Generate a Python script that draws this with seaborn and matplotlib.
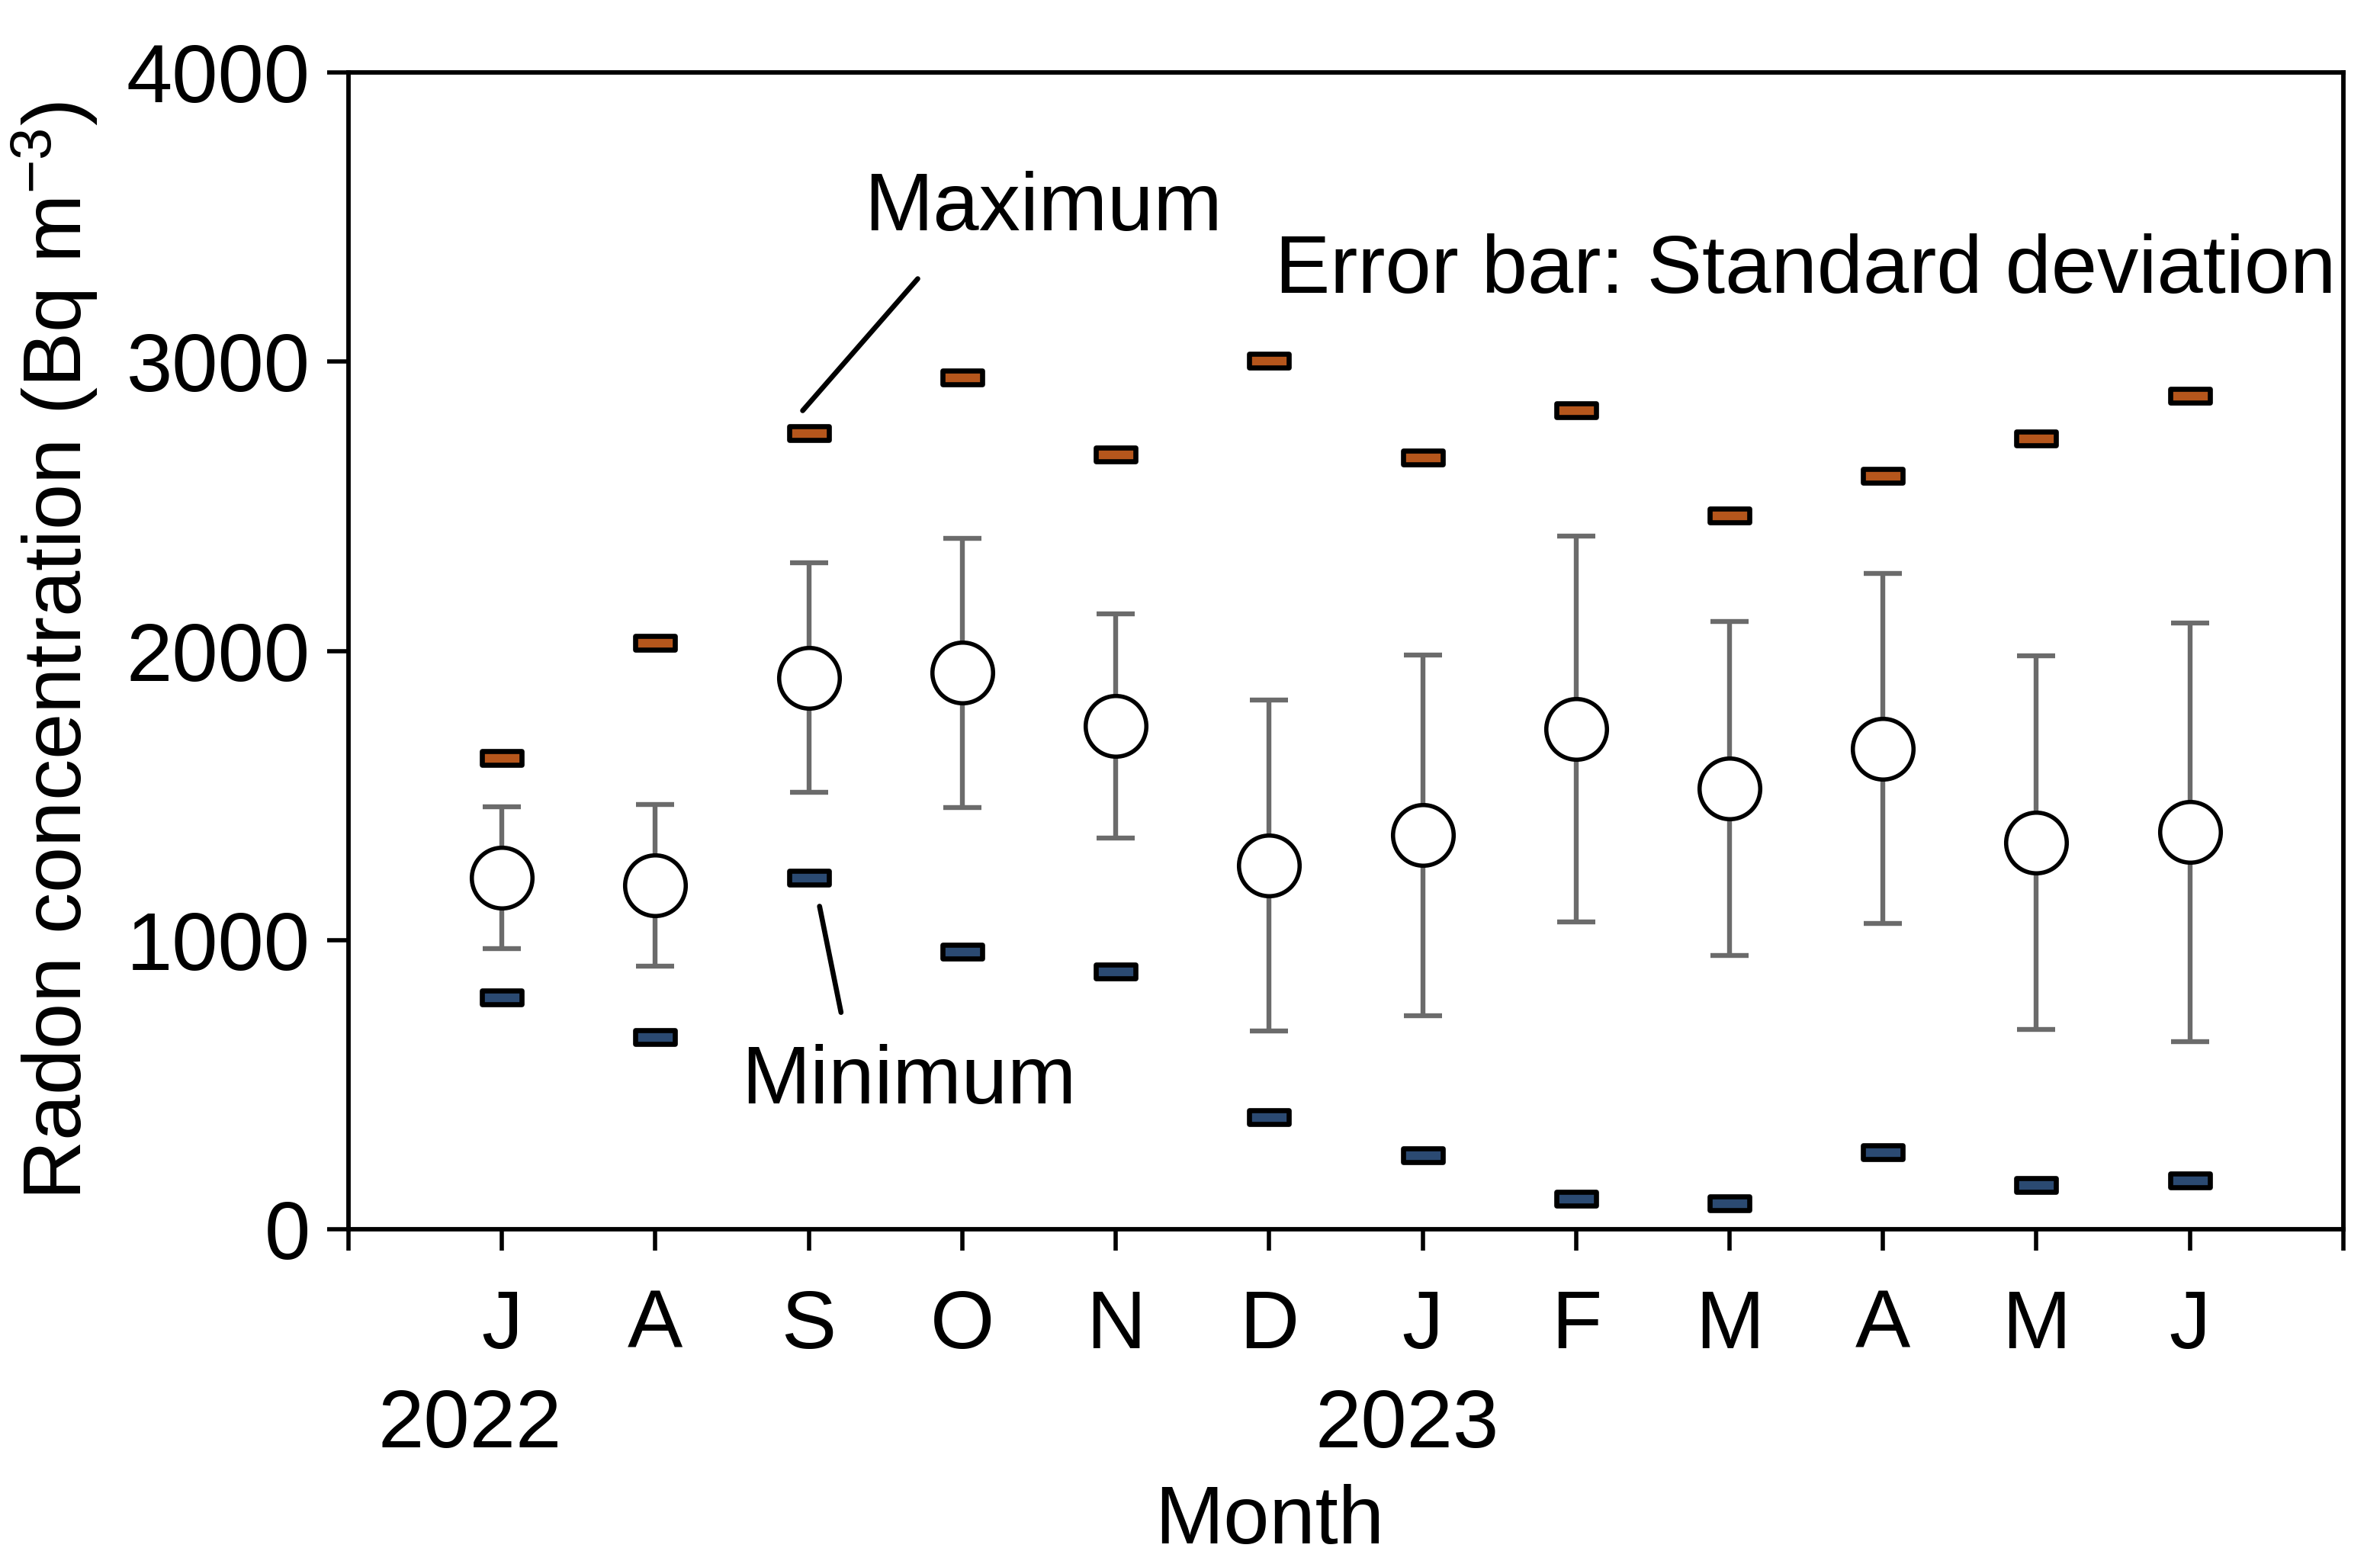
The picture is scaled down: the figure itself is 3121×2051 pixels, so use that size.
import seaborn as sns
import matplotlib.pyplot as plt
import matplotlib.transforms as mtransforms
from matplotlib.path import Path
import pandas as pd
import numpy as np

# --- data ---
months = ['J', 'A', 'S', 'O', 'N', 'D', 'J', 'F', 'M', 'A', 'M', 'J']
mean_vals = [1216, 1190, 1908, 1924, 1740, 1258, 1363, 1730, 1525, 1662, 1337, 1373]
sd_vals = [246, 280, 396, 466, 388, 571, 624, 666, 577, 605, 645, 723]
max_vals = [1630, 2029, 2752, 2946, 2679, 3004, 2668, 2831, 2469, 2605, 2736, 2883]
min_vals = [802, 666, 1216, 959, 891, 388, 257, 105, 89, 267, 152, 168]
years = ['2022', '2023']

df = pd.DataFrame({
    'pos': np.arange(1, len(months) + 1),
    'month': months,
    'mean': mean_vals,
    'sd': sd_vals,
    'max': max_vals,
    'min': min_vals,
})

sns.set_theme(style='ticks')
plt.rcParams.update({
    'font.family': ['Liberation Sans', 'DejaVu Sans'],
    'mathtext.fontset': 'custom',
    'mathtext.rm': 'Liberation Sans',
    'mathtext.it': 'Liberation Sans',
    'figure.facecolor': 'white',
    'axes.facecolor': 'white',
    'text.color': 'black',
    'axes.labelcolor': 'black',
    'xtick.color': 'black',
    'ytick.color': 'black',
    'xtick.labelcolor': 'black',
    'ytick.labelcolor': 'black',
})

FS = 39

fig = plt.figure(figsize=(15.605, 10.255), dpi=200)
ax = fig.add_axes([0.1464, 0.2140, 0.8382, 0.7396])

# error bars (SD)
ax.errorbar(df['pos'], df['mean'], yerr=df['sd'], fmt='none', ecolor='#6b6b6b',
            elinewidth=2.3, capsize=9, capthick=2.3, zorder=2)

# max / min markers: small flat rectangles
rect = Path([(-1.4, -0.5), (1.4, -0.5), (1.4, 0.5), (-1.4, 0.5), (-1.4, -0.5)],
            [Path.MOVETO, Path.LINETO, Path.LINETO, Path.LINETO, Path.CLOSEPOLY])
sns.scatterplot(data=df, x='pos', y='max', marker=rect, s=360, color='#b5561c',
                edgecolor='black', linewidth=2.4, ax=ax, zorder=3)
sns.scatterplot(data=df, x='pos', y='min', marker=rect, s=360, color='#2b4a72',
                edgecolor='black', linewidth=2.4, ax=ax, zorder=3)

# monthly means
sns.scatterplot(data=df, x='pos', y='mean', marker='o', s=820, color='white',
                edgecolor='black', linewidth=2.0, ax=ax, zorder=4)

ax.set_xlim(0, 13)
ax.set_ylim(0, 4000)
ax.set_xticks(np.arange(0, 14))
ax.set_xticklabels([''] + months + [''])
ax.set_yticks([0, 1000, 2000, 3000, 4000])
ax.tick_params(axis='both', direction='out', length=10, width=2.0, labelsize=FS)
ax.tick_params(axis='x', pad=18)
ax.tick_params(axis='y', pad=8)
for sp in ax.spines.values():
    sp.set_linewidth(2.1)
    sp.set_color('black')

ax.set_xlabel('')
ax.set_ylabel('Radon concentration (Bq m$^{-3}$)', fontsize=FS, labelpad=12)

# year and month labels under the axis
trans = mtransforms.blended_transform_factory(ax.transData, ax.transAxes)
ax.text(0.79, -0.17, years[0], transform=trans, ha='center', va='center', fontsize=FS)
ax.text(6.9, -0.17, years[1], transform=trans, ha='center', va='center', fontsize=FS)
ax.text(6.0, -0.253, 'Month', transform=trans, ha='center', va='center', fontsize=FS)

# annotations
ax.text(3.36, 3528, 'Maximum', ha='left', va='center', fontsize=FS)
ax.plot([3.71, 2.96], [3287, 2831], color='black', lw=2.4)
ax.text(2.56, 508, 'Minimum', ha='left', va='center', fontsize=FS)
ax.plot([3.07, 3.21], [1117, 750], color='black', lw=2.4)
ax.text(12.95, 3313, 'Error bar: Standard deviation', ha='right', va='center', fontsize=FS)

fig.savefig('out.png', dpi=200)
